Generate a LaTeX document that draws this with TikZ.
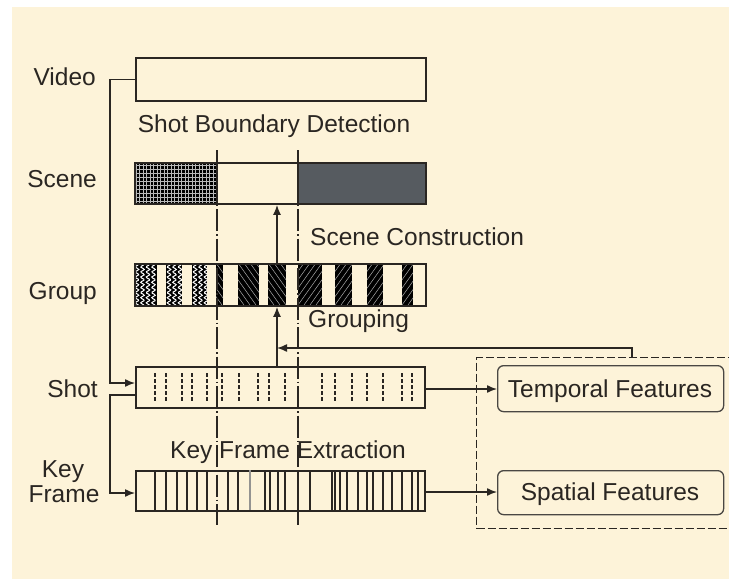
\documentclass[tikz,border=0pt]{standalone}
\usepackage{fontspec}
\setmainfont{Liberation Sans}
\usetikzlibrary{arrows.meta}
\definecolor{bg}{HTML}{FDF3D9}
\definecolor{ink}{HTML}{2A2622}
\definecolor{scenegray}{HTML}{565B60}
\begin{document}
\begin{tikzpicture}[x=1pt,y=-1pt,
  lbl/.style={font=\fontsize{24.5}{28}\selectfont, text=ink, inner sep=0pt},
  bar/.style={draw=ink, line width=1.9pt, minimum width=290pt, minimum height=42pt, anchor=north west, inner sep=0pt},
  conn/.style={draw=ink, line width=1.4pt},
  arr/.style={conn, -{Latex[length=10pt,width=8pt]}},
  feat/.style={draw=ink!85, line width=1.3pt, rounded corners=6pt, minimum width=226pt, anchor=north west, inner sep=0pt},
  dashdot/.style={draw=ink, line width=1.1pt, dash pattern=on 22pt off 3pt on 1.5pt off 3pt},
  shotline/.style={draw=ink, line width=1.9pt, dash pattern=on 4pt off 2pt},
  kfline/.style={draw=ink, line width=1.5pt}
]
\useasboundingbox (0,0) rectangle (729,579);
\fill[white] (0,0) rectangle (729,579);
\fill[bg] (12,7) rectangle (729,579);

% ---- fills of the bars ----
% scene: crosshatched left part
\fill[black] (134,162) rectangle (217,203);
\foreach \xx in {136,139.5,...,216} \draw[gray!55, line width=0.5pt] (\xx,162) -- (\xx,203);
\foreach \yy in {165,169,...,202} \draw[gray!55, line width=0.5pt] (134,\yy) -- (217,\yy);
\fill[scenegray] (298,162) rectangle (425,203);

% group: wavy stripes
\foreach \a/\b in {134/157,166/182,192/207}{
  \fill[black] (\a,263) rectangle (\b,305);
  \begin{scope}
    \clip (\a,263) rectangle (\b,305);
    \foreach \c in {3,8.5,...,24}
      \draw[white, line width=1pt] plot[domain=0:42, samples=40] ({\a+\c+1.8*sin(\x*70)}, {263+\x});
  \end{scope}
}
% group: hatched stripes (backslash)
\foreach \a/\b in {216/223,238/259,268/286}{
  \fill[black] (\a,263) rectangle (\b,305);
  \begin{scope}
    \clip (\a,263) rectangle (\b,305);
    \foreach \k in {-42,-36,...,30}
      \draw[gray!65, line width=0.5pt] (\a+\k,263) -- (\a+\k+30,305);
  \end{scope}
}
% group: hatched stripes (slash)
\foreach \a/\b in {298/322,335/352,367/383,402/413}{
  \fill[black] (\a,263) rectangle (\b,305);
  \begin{scope}
    \clip (\a,263) rectangle (\b,305);
    \foreach \k in {-6,0,...,60}
      \draw[gray!65, line width=0.5pt] (\a+\k,263) -- (\a+\k-30,305);
  \end{scope}
}

% ---- dash-dot guide lines ----
\draw[dashdot] (217,150) -- (217,525);
\draw[dashdot] (298,150) -- (298,525);

% ---- bars ----
\node[bar, minimum height=43pt] (video) at (135,57) {};
\node[bar, minimum width=291pt, minimum height=41pt] (scene) at (134,162) {};
\draw[ink, line width=1.5pt] (217,162) -- (217,203) (298,162) -- (298,203);
\node[bar, minimum width=291pt, minimum height=42pt] (group) at (134,263) {};
\node[bar, minimum width=289pt, minimum height=41pt] (shot) at (135,366) {};
\node[bar, minimum width=289pt, minimum height=40pt] (keyframe) at (135,470) {};

\foreach \xx in {155,166,182,192,207,222,239,258,269,285,322,335,352,367,383,402,412}
  \draw[shotline] (\xx,373) -- (\xx,401);
\foreach \xx in {155,166,177,187,197,207,228,238,265,270,278,285,310,332,335,340,347,358,367,373,383,392,402,412,418}
  \draw[kfline] (\xx,470) -- (\xx,510);
\draw[ink!50, line width=1.2pt] (250,470) -- (250,510);
\draw[ink, line width=1.5pt] (298,470) -- (298,510);

% ---- feature boxes ----
\node[feat, minimum height=46pt] (temporal) at (497,365) {};
\node[lbl, anchor=base] at (610,397) {Temporal Features};
\node[feat, minimum height=44pt] (spatial) at (497,470) {};
\node[lbl, anchor=base] at (610,500) {Spatial Features};
\begin{scope}
  \clip (0,0) rectangle (729,579);
  \node[draw=ink, line width=1.3pt, dash pattern=on 8pt off 3pt, minimum width=264pt, minimum height=171pt, anchor=north west, inner sep=0pt] (fbox) at (476,357) {};
\end{scope}

% ---- connectors ----
\coordinate (lx) at (110,0);
\coordinate (ax) at (277,0);
\coordinate (fx) at (632,0);
\coordinate (gy) at (0,348);
\draw[arr] (video.west) -- (lx |- video.west) -- (lx |- 0,383) -- (shot.west |- 0,383);
\draw[arr] (shot.west |- 0,395) -- (lx |- 0,395) -- (lx |- 0,493) -- (keyframe.west |- 0,493);
\draw[arr] (ax |- shot.north) -- (ax |- group.south);
\draw[arr] (ax |- group.north) -- (ax |- scene.south);
\draw[arr] (fx |- fbox.north) -- (fx |- gy) -- (ax |- gy);
\draw[arr] (shot.east |- 0,389) -- (temporal.west |- 0,389);
\draw[arr] (keyframe.east |- 0,492) -- (spatial.west |- 0,492);

% ---- labels ----
\node[lbl, anchor=base east] at (96,85) {Video};
\node[lbl, anchor=base east] at (97,187) {Scene};
\node[lbl, anchor=base east] at (97,299) {Group};
\node[lbl, anchor=base east] at (98,397) {Shot};
\node[lbl, anchor=base] at (63,477) {Key};
\node[lbl, anchor=base] at (64,502) {Frame};
\node[lbl, anchor=base] at (274,132) {Shot Boundary Detection};
\node[lbl, anchor=base west] at (310,245) {Scene Construction};
\node[lbl, anchor=base west] at (308,327) {Grouping};
\node[lbl, anchor=base] at (288,458) {Key Frame Extraction};
\end{tikzpicture}
\end{document}
